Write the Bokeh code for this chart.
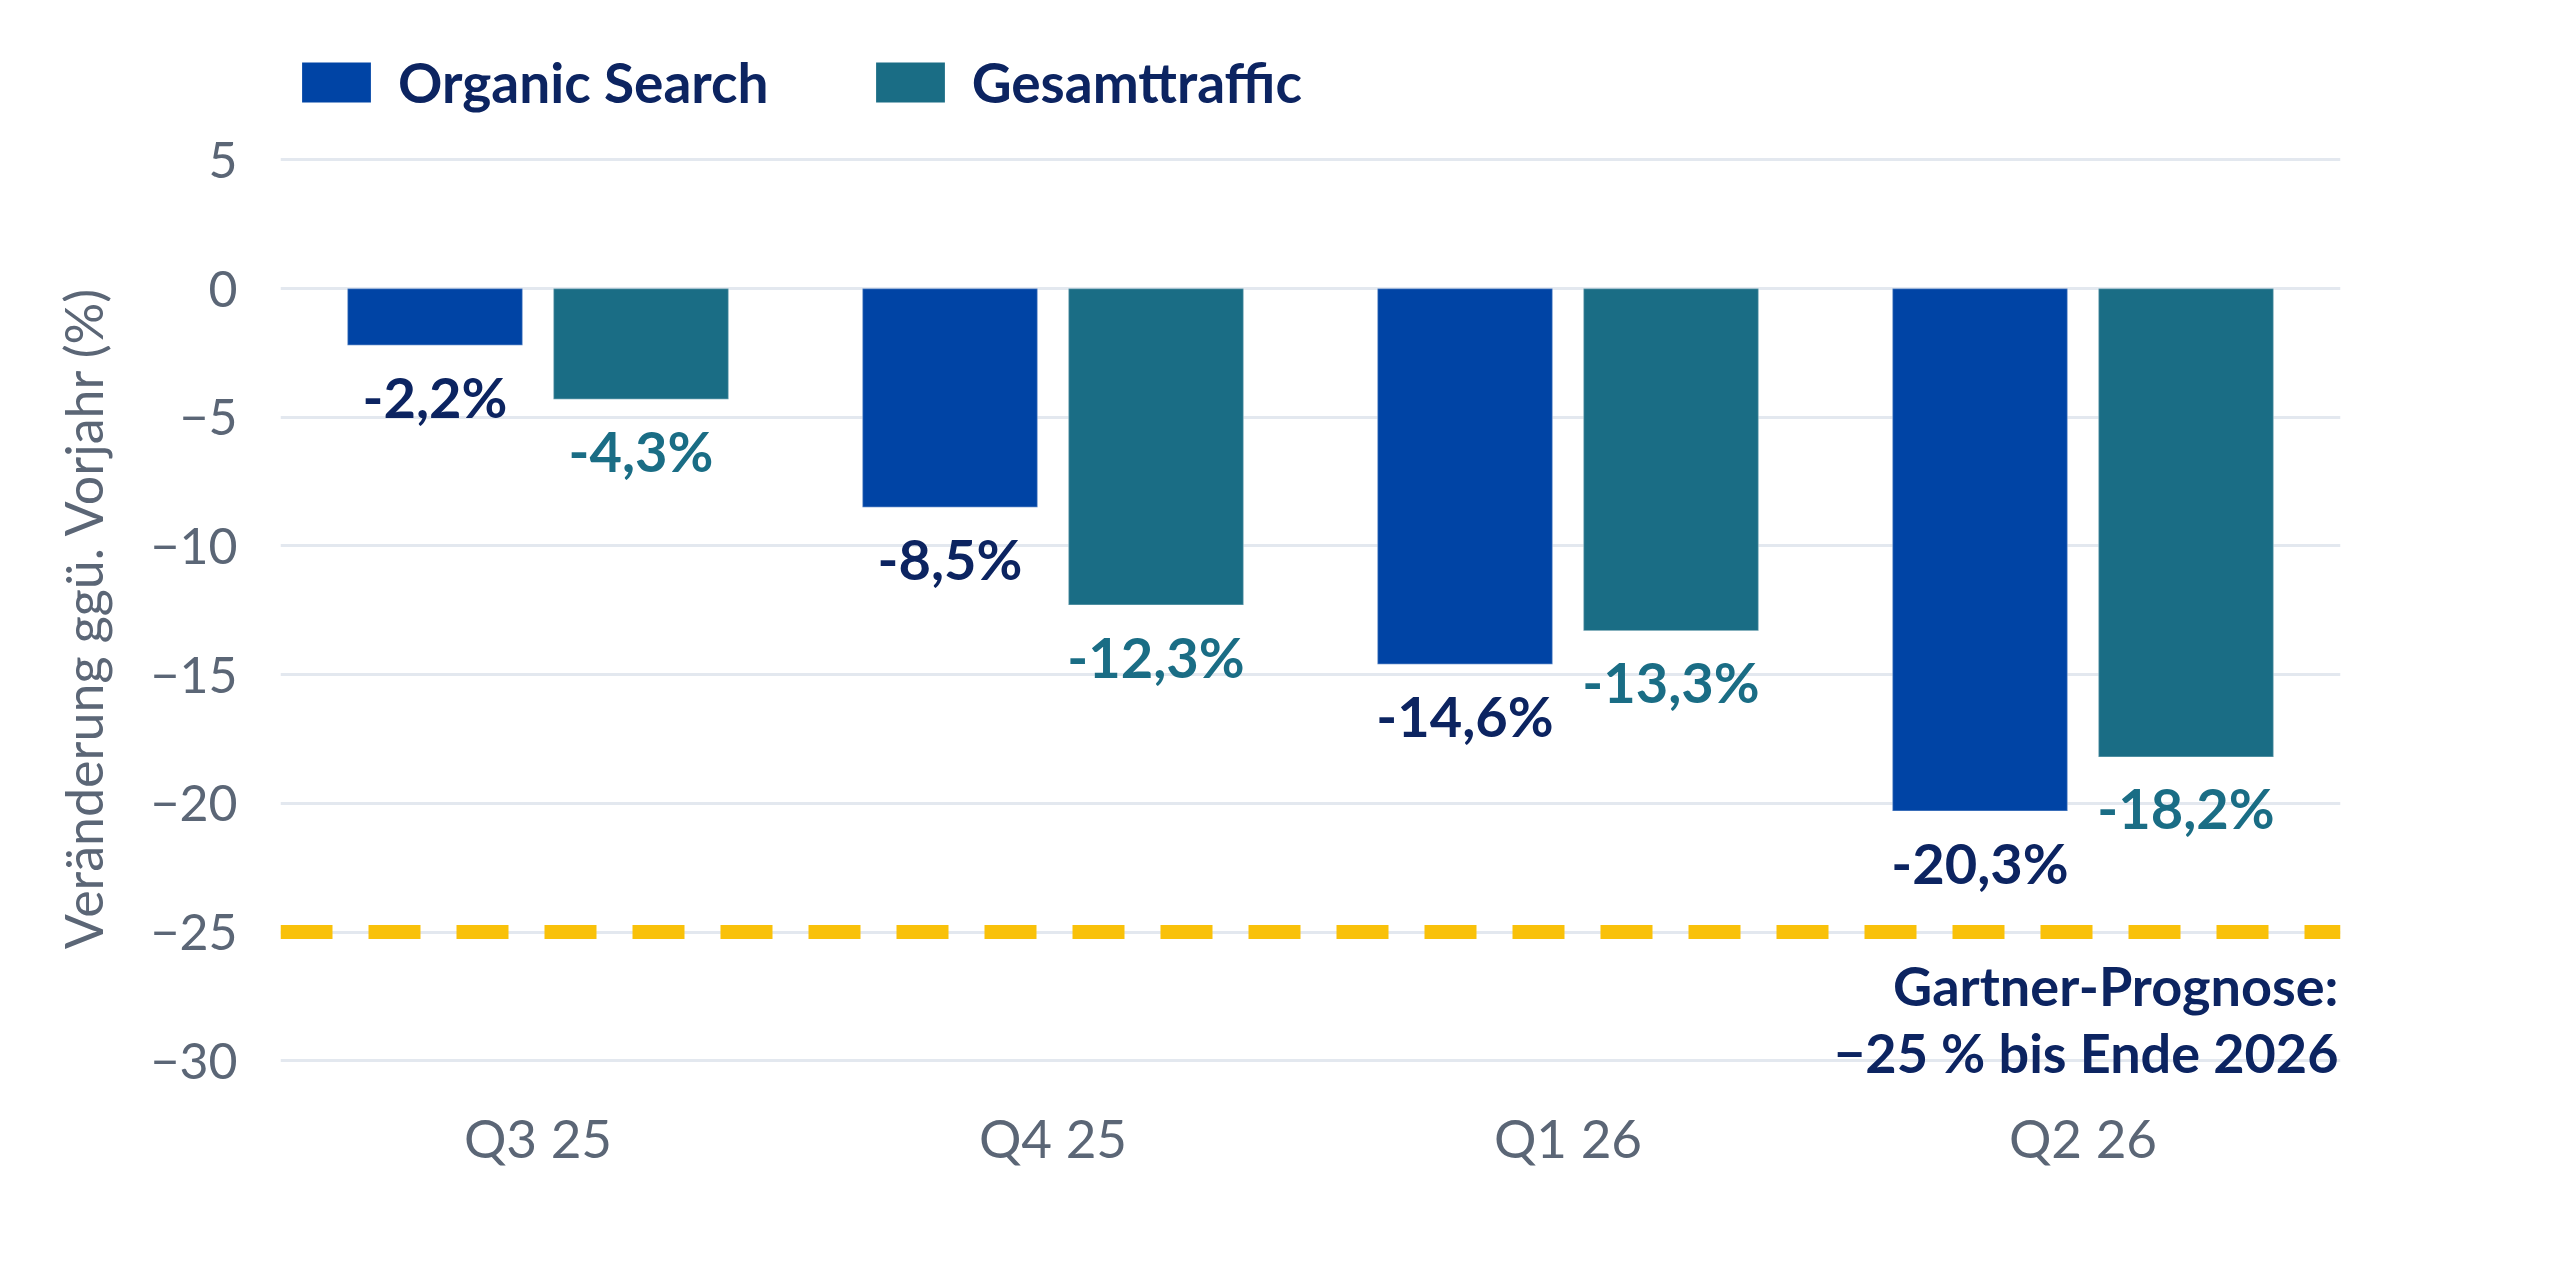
from bokeh.plotting import figure
from bokeh.layouts import column
from bokeh.models import ColumnDataSource, Range1d, FactorRange, FixedTicker, Span, Label, Legend, LegendItem
from bokeh.transform import dodge
from bokeh.core.properties import value
from bokeh.embed import file_html
from bokeh.resources import INLINE

# ---- data ----
quarters = ["Q3 25", "Q4 25", "Q1 26", "Q2 26"]
organic_search = [-2.2, -8.5, -14.6, -20.3]
gesamttraffic = [-4.3, -12.3, -13.3, -18.2]
series_names = ["Organic Search", "Gesamttraffic"]
y_ticks = [5, 0, -5, -10, -15, -20, -25, -30]
y_tick_labels = ["5", "0", "\u22125", "\u221210", "\u221215", "\u221220", "\u221225", "\u221230"]
forecast_value = -25
forecast_lines = ["Gartner-Prognose:", "\u221225 % bis Ende 2026"]
y_axis_title = "Veränderung ggü. Vorjahr (%)"

def fmt(v):
    return f"{v:.1f}".replace(".", ",") + "%"

src = ColumnDataSource(dict(
    q=quarters,
    org=organic_search,
    ges=gesamttraffic,
    org_lbl=[fmt(v) for v in organic_search],
    ges_lbl=[fmt(v) for v in gesamttraffic],
))

BLUE = "#0044a5"
TEAL = "#1a6d85"
NAVY = "#0c2461"
GRAY = "#5b6676"
GRID = "#e3e8ef"
YELLOW = "#f9c10a"
FONT = "Lato"

W = 2544
TOP_H = 120
MAIN_H = 1144

# ---------------- legend strip ----------------
top = figure(width=W, height=TOP_H, x_range=Range1d(0, 1), y_range=Range1d(0, 1),
             output_backend="svg", toolbar_location=None, min_border=0,
             x_axis_location=None, y_axis_location=None)
top.grid.visible = False
top.outline_line_color = None
# zero-height legend handles (nothing visible in the strip itself)
handle = ColumnDataSource(dict(x=[0], top=[0]))
l1 = top.vbar(x="x", top="top", bottom=0, width=0, source=handle, fill_color=BLUE, line_color=None)
l2 = top.vbar(x="x", top="top", bottom=0, width=0, source=handle, fill_color=TEAL, line_color=None)
legend = Legend(items=[LegendItem(label=series_names[0], renderers=[l1]),
                       LegendItem(label=series_names[1], renderers=[l2])],
                orientation="horizontal", location=(13, 5),
                glyph_width=86, glyph_height=50, label_standoff=19, spacing=98,
                label_text_font=FONT, label_text_font_style="bold",
                label_text_font_size="55px", label_text_color=NAVY,
                border_line_color=None, background_fill_alpha=0,
                padding=0, margin=0)
top.add_layout(legend, "center")

# ---------------- main chart ----------------
p = figure(
    width=W, height=MAIN_H,
    x_range=FactorRange(*quarters, range_padding=0),
    y_range=Range1d(-30.847, 5.284),
    output_backend="svg", toolbar_location=None,
    min_border_left=280, min_border_right=204,
    min_border_top=32, min_border_bottom=182,
)
p.outline_line_color = None
p.background_fill_color = "white"
p.border_fill_color = "white"

p.xgrid.grid_line_color = None
p.ygrid.grid_line_color = GRID
p.ygrid.grid_line_width = 3
p.yaxis.ticker = FixedTicker(ticks=y_ticks)
p.yaxis.major_label_overrides = {t: l for t, l in zip(y_ticks, y_tick_labels)}

for ax in (p.xaxis, p.yaxis):
    ax.axis_line_color = None
    ax.major_tick_line_color = None
    ax.minor_tick_line_color = None
    ax.major_label_text_font = FONT
    ax.major_label_text_color = GRAY
p.yaxis.major_label_text_font_size = "50px"
p.xaxis.major_label_text_font_size = "53px"
p.xaxis.major_label_standoff = 17
p.yaxis.major_label_standoff = 37
p.yaxis.axis_label = y_axis_title
p.yaxis.axis_label_text_font = FONT
p.yaxis.axis_label_text_font_style = "normal"
p.yaxis.axis_label_text_font_size = "52px"
p.yaxis.axis_label_text_color = GRAY
p.yaxis.axis_label_standoff = 33

r1 = p.vbar(x=dodge("q", -0.2, range=p.x_range), top="org", bottom=0, width=0.34, source=src,
            fill_color=BLUE, line_color="white", line_alpha=0.3, line_width=1.5)
r2 = p.vbar(x=dodge("q", 0.2, range=p.x_range), top="ges", bottom=0, width=0.34, source=src,
            fill_color=TEAL, line_color="white", line_alpha=0.3, line_width=1.5)

p.text(x=dodge("q", -0.2, range=p.x_range), y="org", text="org_lbl", source=src,
       text_align="center", text_baseline="alphabetic", y_offset=51,
       text_font=value(FONT), text_font_style="bold", text_font_size="56px", text_color=NAVY)
p.text(x=dodge("q", 0.2, range=p.x_range), y="ges", text="ges_lbl", source=src,
       text_align="center", text_baseline="alphabetic", y_offset=51,
       text_font=value(FONT), text_font_style="bold", text_font_size="56px", text_color=TEAL)

p.add_layout(Span(location=forecast_value, dimension="width", line_color=YELLOW,
                  line_width=14, line_dash="52 36", line_cap="butt"))

for i, txt in enumerate(forecast_lines):
    p.add_layout(Label(x=2058, x_units="screen", y=forecast_value, y_units="data",
                       y_offset=-53 - 67 * i, text=txt, text_align="right",
                       text_baseline="alphabetic", text_font=FONT, text_font_style="bold",
                       text_font_size="54px", text_color=NAVY))

layout = column(top, p, spacing=0)
open("out.html", "w").write(file_html(layout, INLINE))
